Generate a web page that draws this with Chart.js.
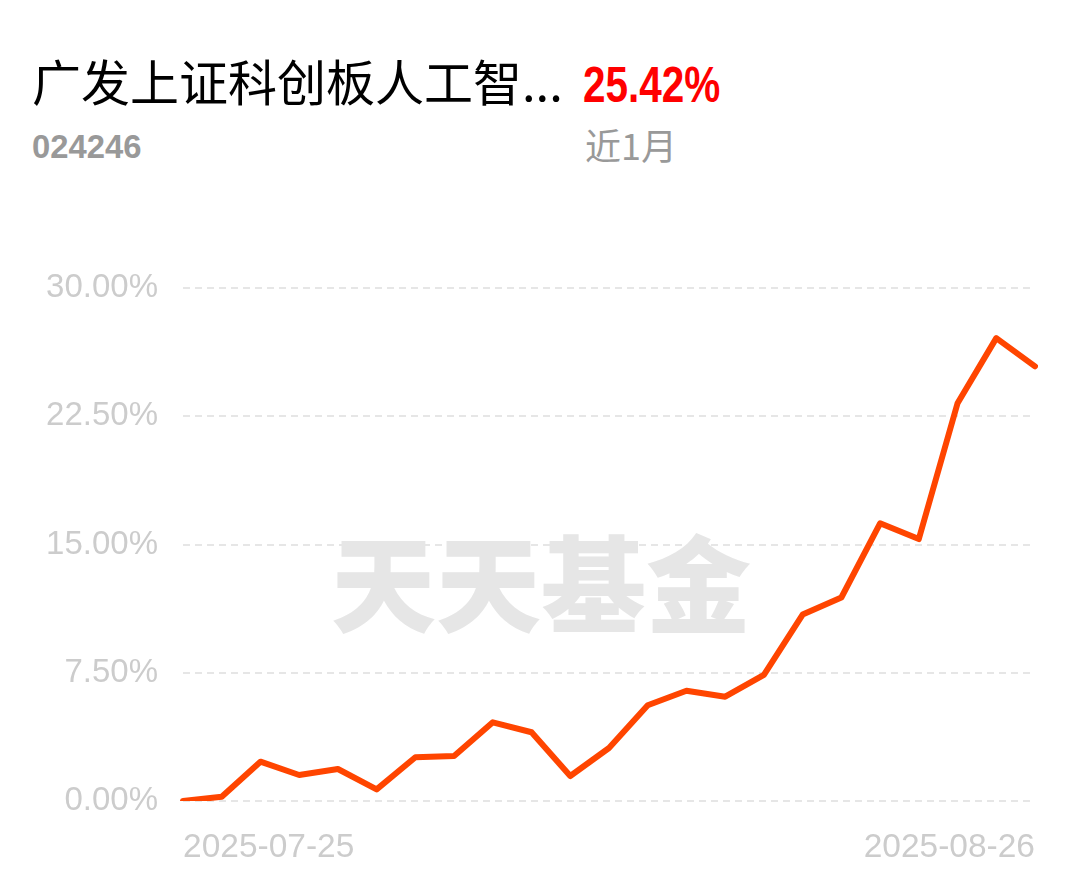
<!DOCTYPE html>
<html>
<head>
<meta charset="utf-8">
<script src="https://cdn.jsdelivr.net/npm/chart.js@4.4.1/dist/chart.umd.min.js"></script>
<style>
  html,body{margin:0;padding:0;background:#fff;width:1080px;height:878px;overflow:hidden;}
  .abs{position:absolute;white-space:nowrap;}
  #title{left:32px;top:55px;font-family:"Noto Sans CJK SC",sans-serif;font-size:49px;color:#000;line-height:1;}
  #ret{left:583px;top:60px;font-family:"Liberation Sans","DejaVu Sans",sans-serif;font-weight:bold;font-size:50px;color:#ff0000;line-height:1;transform:scaleX(0.81);transform-origin:0 0;}
  #code{left:32px;top:129px;font-family:"Liberation Sans","DejaVu Sans",sans-serif;font-weight:bold;font-size:34px;color:#999;line-height:1;transform:scaleX(0.965);transform-origin:0 0;}
  #period{left:585px;top:126px;font-family:"Noto Sans CJK SC",sans-serif;font-size:36px;color:#999;line-height:1;}
  #wm{left:331px;top:526px;font-family:"Noto Sans CJK SC",sans-serif;font-weight:900;font-size:105px;color:#e6e6e6;line-height:1;}
  #wrap{position:absolute;left:0;top:240px;width:1080px;height:638px;}
</style>
</head>
<body>
<div class="abs" id="wm">天天基金</div>
<div class="abs" id="title">广发上证科创板人工智...</div>
<div class="abs" id="ret">25.42%</div>
<div class="abs" id="code">024246</div>
<div class="abs" id="period">近1月</div>
<div id="wrap"><canvas id="c" width="1080" height="638"></canvas></div>
<script>
const dates = ["2025-07-25","2025-07-28","2025-07-29","2025-07-30","2025-07-31","2025-08-01",
  "2025-08-04","2025-08-05","2025-08-06","2025-08-07","2025-08-08",
  "2025-08-11","2025-08-12","2025-08-13","2025-08-14","2025-08-15",
  "2025-08-18","2025-08-19","2025-08-20","2025-08-21","2025-08-22",
  "2025-08-25","2025-08-26"];
const returns = [0.00, 0.25, 2.30, 1.52, 1.87, 0.68, 2.56, 2.63, 4.60, 4.02, 1.46, 3.10,
  5.60, 6.45, 6.10, 7.37, 10.90, 11.90, 16.24, 15.32, 23.26, 27.07, 25.42];
const yTicks = [0, 7.5, 15, 22.5, 30];

new Chart(document.getElementById('c'), {
  type: 'line',
  data: {
    labels: dates,
    datasets: [{
      data: returns,
      borderColor: '#ff4500',
      borderWidth: 6,
      pointRadius: 0,
      tension: 0,
      fill: false,
      borderJoinStyle: 'round',
      borderCapStyle: 'round'
    }]
  },
  options: {
    responsive: false,
    animation: false,
    devicePixelRatio: 1,
    layout: { padding: { top: 48, right: 45, left: 0, bottom: 0 } },
    plugins: { legend: { display: false }, tooltip: { enabled: false } },
    scales: {
      x: {
        offset: false,
        grid: { display: false, drawTicks: false },
        border: { display: false },
        afterFit: (s) => { s.height = 77; },
        ticks: {
          autoSkip: false,
          maxRotation: 0,
          align: 'inner',
          padding: 27,
          color: '#cccccc',
          font: { family: 'Liberation Sans, Arial, sans-serif', size: 33.5 },
          callback: function(v, i) { return (i === 0 || i === dates.length - 1) ? dates[i] : ''; }
        }
      },
      y: {
        min: 0, max: 30,
        afterFit: (s) => { s.width = 183; },
        afterBuildTicks: (s) => { s.ticks = yTicks.map(v => ({ value: v })); },
        grid: { color: '#e6e6e6', lineWidth: 2, drawTicks: false },
        border: { display: false, dash: [7, 5] },
        ticks: {
          padding: 25,
          color: '#cccccc',
          font: { family: 'Liberation Sans, Arial, sans-serif', size: 33 },
          callback: (v) => v.toFixed(2) + '%'
        }
      }
    }
  }
});
</script>
</body>
</html>
